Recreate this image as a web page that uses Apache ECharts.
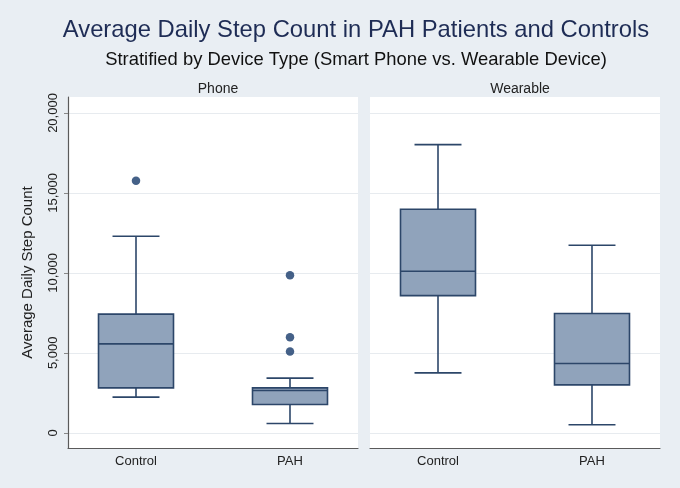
<!DOCTYPE html>
<html>
<head>
  <meta charset="utf8">
  <script src="https://cdn.jsdelivr.net/npm/echarts@6/dist/echarts.min.js"></script>
  <style>
    html, body { margin: 0; padding: 0; background: #e9eef3; }
    #main { width: 680px; height: 488px; }
  </style>
</head>
<body>
<div id="main"></div>
<script type="text/javascript">
  // values: [low whisker, Q1, median, Q3, high whisker]
  var categories = ['Control', 'PAH'];
  var phoneBoxes = [
      [2230, 2810, 5560, 7420, 12290],
      [580, 1770, 2650, 2810, 3420]
  ];
  var wearableBoxes = [
      [3750, 8580, 10100, 13980, 18020],
      [500, 3000, 4330, 7460, 11730]
  ];
  // outliers: [category index, value]
  var phoneOutliers = [[0, 15770], [1, 9850], [1, 5980], [1, 5080]];
  var yTicks = [0, 5000, 10000, 15000, 20000];
  var xTicks = [0, 1];

  var FONT = 'Liberation Sans, Arial, Helvetica, sans-serif';
  var BOX_FILL = '#90a3bb';
  var BOX_EDGE = '#2c4669';
  var DOT = '#173a6a';

  function renderBox(params, api) {
      var c = api.value(0);
      var low = api.coord([c, api.value(1)]);
      var q1 = api.coord([c, api.value(2)]);
      var med = api.coord([c, api.value(3)]);
      var q3 = api.coord([c, api.value(4)]);
      var high = api.coord([c, api.value(5)]);
      var unit = api.size([1, 0])[0];
      var bw = unit * 0.487;
      var cw = unit * 0.305;
      var x = low[0];
      var ls = { stroke: BOX_EDGE, lineWidth: 1.6 };
      return {
          type: 'group',
          children: [
              { type: 'line', shape: { x1: x, y1: q3[1], x2: x, y2: high[1] }, style: ls },
              { type: 'line', shape: { x1: x, y1: q1[1], x2: x, y2: low[1] }, style: ls },
              { type: 'line', shape: { x1: x - cw / 2, y1: high[1], x2: x + cw / 2, y2: high[1] }, style: ls },
              { type: 'line', shape: { x1: x - cw / 2, y1: low[1], x2: x + cw / 2, y2: low[1] }, style: ls },
              { type: 'rect', shape: { x: x - bw / 2, y: q3[1], width: bw, height: q1[1] - q3[1] },
                style: { fill: BOX_FILL, stroke: BOX_EDGE, lineWidth: 1.6 } },
              { type: 'line', shape: { x1: x - bw / 2, y1: med[1], x2: x + bw / 2, y2: med[1] }, style: ls }
          ]
      };
  }

  function boxData(boxes) {
      var out = [];
      for (var i = 0; i < boxes.length; i++) {
          out.push([i].concat(boxes[i]));
      }
      return out;
  }

  // groups sit at 0 and 1 on a value axis so the spacing can match the picture
  function makeXAxis(idx) {
      return {
          type: 'value',
          gridIndex: idx,
          min: -0.4416,
          max: 1.4416,
          axisLine: { onZero: false, lineStyle: { color: '#5a5a5a', width: 1.2 } },
          axisTick: { show: false, customValues: xTicks },
          axisLabel: {
              customValues: xTicks,
              color: '#222', fontSize: 13, fontFamily: FONT, margin: 7,
              formatter: function (v) { return categories[Math.round(v)]; }
          },
          splitLine: { show: false }
      };
  }

  function makeYAxis(idx, showLabels) {
      return {
          type: 'value',
          gridIndex: idx,
          min: -950,
          max: 21000,
          axisLine: { show: showLabels, onZero: false, lineStyle: { color: '#5a5a5a', width: 1.2 } },
          axisTick: { show: showLabels, length: 4, customValues: yTicks, lineStyle: { color: '#888' } },
          axisLabel: {
              show: showLabels,
              customValues: yTicks,
              rotate: 90,
              margin: 8,
              color: '#222',
              fontSize: 13,
              fontFamily: FONT,
              formatter: function (v) { return v.toLocaleString('en-US'); }
          },
          splitLine: { show: true, lineStyle: { color: '#e7ebef', width: 1 } },
          name: showLabels ? 'Average Daily Step Count' : '',
          nameLocation: 'middle',
          nameGap: 33,
          nameTextStyle: { color: '#222', fontSize: 15, fontFamily: FONT }
      };
  }

  var myChart = echarts.init(document.getElementById('main'));
  var option = {
      backgroundColor: '#e9eef3',
      animation: false,
      title: [
          { text: 'Average Daily Step Count in PAH Patients and Controls', left: 351, top: 13, textAlign: 'center',
            textStyle: { color: '#1e2c55', fontSize: 23.8, fontWeight: 'normal', fontFamily: FONT } },
          { text: 'Stratified by Device Type (Smart Phone vs. Wearable Device)', left: 351, top: 46, textAlign: 'center',
            textStyle: { color: '#111', fontSize: 18.4, fontWeight: 'normal', fontFamily: FONT } },
          { text: 'Phone', left: 213, top: 77, textAlign: 'center',
            textStyle: { color: '#222', fontSize: 14, fontWeight: 'normal', fontFamily: FONT } },
          { text: 'Wearable', left: 515, top: 77, textAlign: 'center',
            textStyle: { color: '#222', fontSize: 14, fontWeight: 'normal', fontFamily: FONT } }
      ],
      grid: [
          { left: 68, top: 97, width: 290, height: 351, show: true, backgroundColor: '#fff', borderWidth: 0 },
          { left: 370, top: 97, width: 290, height: 351, show: true, backgroundColor: '#fff', borderWidth: 0 }
      ],
      xAxis: [makeXAxis(0), makeXAxis(1)],
      yAxis: [makeYAxis(0, true), makeYAxis(1, false)],
      series: [
          {
              type: 'custom', name: 'Phone', xAxisIndex: 0, yAxisIndex: 0,
              renderItem: renderBox, data: boxData(phoneBoxes),
              encode: { x: 0, y: [1, 2, 3, 4, 5] }
          },
          {
              type: 'custom', name: 'Wearable', xAxisIndex: 1, yAxisIndex: 1,
              renderItem: renderBox, data: boxData(wearableBoxes),
              encode: { x: 0, y: [1, 2, 3, 4, 5] }
          },
          {
              type: 'scatter', xAxisIndex: 0, yAxisIndex: 0,
              symbolSize: 8.5, itemStyle: { color: DOT },
              data: phoneOutliers
          }
      ]
  };
  myChart.setOption(option);
</script>
</body>
</html>
